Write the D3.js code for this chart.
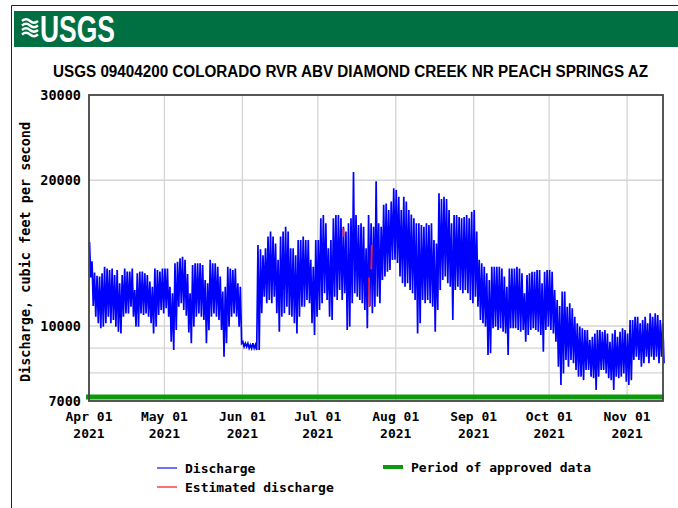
<!DOCTYPE html>
<html>
<head>
<meta charset="utf-8">
<script src="https://cdn.jsdelivr.net/npm/d3@7"></script>
<style>
body { margin: 0; background: #fff; }
svg text { font-family: "DejaVu Sans Mono", monospace; font-weight: bold; fill: #000; }
</style>
</head>
<body>
<div id="chart"></div>
<script>
/*
USGS 09404200 hydrograph - daily high / low
 */

var startDate = "2021-04-01";
var endDate = "2021-11-15T07:00";

// one value per day, starting Apr 01 (cfs)
var dailyHigh = [
    14900, 13600, 12900, 12700, 12650, 12850, 13250, 13150, 13050, 13150,
    12750, 13050, 12250, 12750, 13150, 12950, 12950, 13150, 11870, 12850,
    12950, 12950, 12850, 12750, 12350, 12050, 13150, 13050, 12950, 13150,
    13150, 13150, 12050, 11680, 13470, 13570, 13800, 13900, 13700, 12800,
    11680, 13360, 13470, 13470, 13470, 13360, 12450, 12250, 13700, 13470,
    13470, 13250, 12650, 11780, 12050, 13250, 13150, 13050, 13150, 12250,
    12050, 9280, 9210, 9210, 9140, 9210, 9140, 14700, 14400, 14000,
    14470, 15300, 15670, 15300, 14800, 13700, 15300, 15670, 16040, 15670,
    14470, 14470, 14000, 15050, 15050, 15300, 15050, 15050, 13700, 13250,
    15050, 15050, 16700, 16950, 16300, 14470, 15050, 16700, 16950, 16950,
    16700, 16040, 15670, 16300, 16700, 20800, 16950, 16170, 16300, 16040,
    14470, 16950, 16300, 16040, 19900, 16300, 16040, 17800, 17900, 17370,
    18070, 19250, 19100, 18500, 17370, 18500, 18070, 17370, 17000, 16700,
    16300, 16300, 16170, 16040, 16300, 16170, 16300, 15050, 14800, 18800,
    18300, 18500, 18300, 17370, 16300, 16950, 16950, 16800, 16700, 16800,
    16950, 16700, 17220, 17370, 15670, 13700, 13470, 13250, 12850, 12450,
    13250, 13250, 13250, 13250, 13150, 12650, 12050, 13150, 13150, 13150,
    13250, 13150, 12850, 11680, 12750, 12850, 12950, 12950, 13050, 13050,
    12250, 12950, 13050, 13050, 12950, 11870, 11320, 11000, 11780, 11780,
    10960, 11140, 10880, 10450, 10130, 9970, 9890, 9810, 9810, 9360,
    9500, 9650, 9810, 9810, 9730, 9810, 9650, 9280, 9650, 9810,
    9500, 9730, 9890, 9810, 9650, 10290, 10290, 10450, 10450, 10130,
    10290, 10450, 10130, 10620, 10450, 10620, 10540, 10290, 10130
];

var dailyLow = [
    12600, 11000, 10450, 10130, 9900, 9970, 10130, 10450, 10130, 10290,
    9970, 9730, 9650, 10450, 10620, 10620, 10960, 10450, 9970, 9970,
    10620, 10540, 10620, 10450, 10130, 9650, 9970, 10540, 10790, 10620,
    10880, 10450, 9280, 8920, 9810, 10960, 11140, 10790, 10500, 9700,
    9210, 9970, 10450, 10620, 10450, 10290, 9210, 9800, 10450, 10620,
    10450, 10290, 9810, 8640, 9210, 9970, 10450, 10620, 10450, 9970,
    9210, 9060, 9060, 9000, 8990, 9000, 8920, 8920, 10620, 11500,
    11140, 11320, 11140, 11500, 10620, 9730, 10450, 10620, 10960, 10540,
    10450, 10130, 9650, 10450, 10960, 10960, 11320, 11140, 10130, 9580,
    10450, 10790, 11140, 11680, 11320, 10450, 10290, 11500, 11320, 11870,
    11320, 11680, 9810, 9970, 11140, 11680, 11500, 11320, 11140, 10790,
    9890, 11000, 10620, 10960, 11500, 11140, 12450, 12650, 12950, 13050,
    13690, 13700, 13500, 12650, 12250, 12050, 12250, 11870, 11680, 11320,
    9650, 10130, 11320, 11140, 11320, 11140, 10960, 9730, 10790, 11870,
    12450, 12650, 12250, 12050, 10290, 11870, 12050, 11870, 11680, 11870,
    11680, 11320, 11140, 11500, 10960, 10290, 10130, 9970, 8710, 8780,
    9890, 9970, 9810, 9890, 9730, 9650, 8710, 9890, 9890, 9890,
    9810, 9730, 9810, 9280, 9580, 9810, 9890, 9810, 9730, 9580,
    8850, 9810, 9970, 9810, 9650, 9280, 8240, 7550, 7980, 8510,
    8240, 8510, 8380, 8110, 7860, 7860, 7730, 8110, 8110, 7860,
    7800, 7380, 7860, 8110, 8110, 7980, 7800, 7730, 7380, 7860,
    7800, 7860, 7980, 7670, 7550, 7730, 8510, 8640, 8510, 8240,
    8380, 8640, 8380, 8640, 8510, 8640, 8380, 8640, 8380
];

// estimated discharge pieces (null = break)
var estimatedTimes = ["2021-07-11T03:00", "2021-07-11T06:00", null,
    "2021-07-21T09:00", "2021-07-21T13:00", null,
    "2021-07-22T07:00", "2021-07-22T11:00"];
var estimatedValues = [15900, 15300, null, 12600, 10950, null, 13100, 14700];

var yTickValues = [7000, 10000, 20000, 30000];
var yGridValues = [8000, 9000, 10000, 20000];
var monthTicks = ["2021-04-01", "2021-05-01", "2021-06-01", "2021-07-01",
    "2021-08-01", "2021-09-01", "2021-10-01", "2021-11-01"];

var W = 678, H = 508;
var plot = { left: 89, right: 663, top: 95, bottom: 401 };

var parse = function(s) { return new Date(s.length > 10 ? s + ":00Z" : s + "T00:00:00Z"); };
var t0 = parse(startDate);
var DAY = 86400000;

var x = d3.scaleUtc()
    .domain([t0, parse(endDate)])
    .range([plot.left, plot.right]);

var y = d3.scaleLog()
    .domain([7000, 30000])
    .range([plot.bottom, plot.top]);

var svg = d3.select("#chart")
    .append("svg")
    .attr("width", W)
    .attr("height", H);

// frame of the page
svg.append("path")
    .attr("d", "M11.5," + H + "V5.5H" + W)
    .style("fill", "none")
    .style("stroke", "#222")
    .style("stroke-width", 1);

// header bar
svg.append("rect")
    .attr("x", 14).attr("y", 11)
    .attr("width", W - 14).attr("height", 36)
    .style("fill", "#006f41");

// wave icon
for (var k = 0; k < 4; k++) {
    var yy = 21 + k * 4.5;
    svg.append("path")
        .attr("d", "M22," + yy + " q4,-3.5 8,0 t8,0")
        .style("fill", "none")
        .style("stroke", "#fff")
        .style("stroke-width", 2.4);
}

svg.append("text")
    .attr("x", 40).attr("y", 42)
    .attr("textLength", 75)
    .attr("lengthAdjust", "spacingAndGlyphs")
    .style("font-family", "'Liberation Sans Narrow', 'Liberation Sans', sans-serif")
    .style("font-size", "36px")
    .style("font-weight", "bold")
    .style("fill", "#fff")
    .text("USGS");

// title
svg.append("text")
    .attr("x", 350.5).attr("y", 77)
    .attr("text-anchor", "middle")
    .attr("textLength", 595)
    .attr("lengthAdjust", "spacingAndGlyphs")
    .style("font-family", "'Liberation Sans', Arial, sans-serif")
    .style("font-weight", "bold")
    .style("font-size", "16px")
    .text("USGS 09404200 COLORADO RVR ABV DIAMOND CREEK NR PEACH SPRINGS AZ");

// grid
svg.selectAll(".hgrid")
    .data(yGridValues)
    .enter()
    .append("line")
    .attr("x1", plot.left).attr("x2", plot.right)
    .attr("y1", function(d) { return y(d); })
    .attr("y2", function(d) { return y(d); })
    .style("stroke", "#d4d4d4")
    .style("stroke-width", 1.3);

svg.selectAll(".vgrid")
    .data(monthTicks.slice(1))
    .enter()
    .append("line")
    .attr("x1", function(d) { return x(parse(d)); })
    .attr("x2", function(d) { return x(parse(d)); })
    .attr("y1", plot.top).attr("y2", plot.bottom)
    .style("stroke", "#d4d4d4")
    .style("stroke-width", 1.3);

// discharge: high then low in each day
var points = [];
dailyHigh.forEach(function(h, i) {
    points.push({ t: new Date(t0.getTime() + (i + 0.2) * DAY), v: h });
    points.push({ t: new Date(t0.getTime() + (i + 0.7) * DAY), v: dailyLow[i] });
});

var line = d3.line()
    .x(function(d) { return x(d.t); })
    .y(function(d) { return y(d.v); });

svg.append("path")
    .datum(points)
    .attr("d", line)
    .style("fill", "none")
    .style("stroke", "#0000ff")
    .style("stroke-width", 1.7);

var estPoints = estimatedTimes.map(function(t, i) {
    return t ? { t: parse(t), v: estimatedValues[i] } : null;
});

svg.append("path")
    .datum(estPoints)
    .attr("d", d3.line()
        .defined(function(d) { return d !== null; })
        .x(function(d) { return x(d.t); })
        .y(function(d) { return y(d.v); }))
    .style("fill", "none")
    .style("stroke", "#ff1a1a")
    .style("stroke-width", 1.8);

// approved period bar
svg.append("line")
    .attr("x1", plot.left - 3).attr("x2", plot.right + 1)
    .attr("y1", plot.bottom - 4).attr("y2", plot.bottom - 4)
    .style("stroke", "#0c9a0c")
    .style("stroke-width", 5);

// plot border
svg.append("rect")
    .attr("x", plot.left).attr("y", plot.top)
    .attr("width", plot.right - plot.left)
    .attr("height", plot.bottom - plot.top)
    .style("fill", "none")
    .style("stroke", "#444")
    .style("stroke-width", 1.8);

// y labels
svg.selectAll(".ylab")
    .data(yTickValues)
    .enter()
    .append("text")
    .attr("x", 81)
    .attr("y", function(d) { return y(d); })
    .attr("dy", "0.36em")
    .attr("text-anchor", "end")
    .style("font-size", "13.5px")
    .text(function(d) { return d; });

svg.append("text")
    .attr("transform", "translate(30,252) rotate(-90)")
    .attr("text-anchor", "middle")
    .style("font-size", "13.5px")
    .text("Discharge, cubic feet per second");

// x labels
var fmt = d3.utcFormat("%b %d");
var xl = svg.selectAll(".xlab")
    .data(monthTicks)
    .enter()
    .append("text")
    .attr("text-anchor", "middle")
    .style("font-size", "13px");

xl.append("tspan")
    .attr("x", function(d) { return x(parse(d)); })
    .attr("y", 421)
    .text(function(d) { return fmt(parse(d)); });

xl.append("tspan")
    .attr("x", function(d) { return x(parse(d)); })
    .attr("y", 438)
    .text("2021");

// legend
var legend = [
    { x: 157, y: 468, color: "#4040ff", w: 1.5, label: "Discharge" },
    { x: 157, y: 487, color: "#ff4040", w: 1.5, label: "Estimated discharge" },
    { x: 383, y: 467, color: "#0c9a0c", w: 4, label: "Period of approved data" }
];

var lg = svg.selectAll(".legend")
    .data(legend)
    .enter()
    .append("g");

lg.append("line")
    .attr("x1", function(d) { return d.x; })
    .attr("x2", function(d) { return d.x + 20; })
    .attr("y1", function(d) { return d.y; })
    .attr("y2", function(d) { return d.y; })
    .style("stroke", function(d) { return d.color; })
    .style("stroke-width", function(d) { return d.w; });

lg.append("text")
    .attr("x", function(d) { return d.x + 28; })
    .attr("y", function(d) { return d.y; })
    .attr("dy", "0.35em")
    .style("font-size", "13px")
    .text(function(d) { return d.label; });
</script>
</body>
</html>
